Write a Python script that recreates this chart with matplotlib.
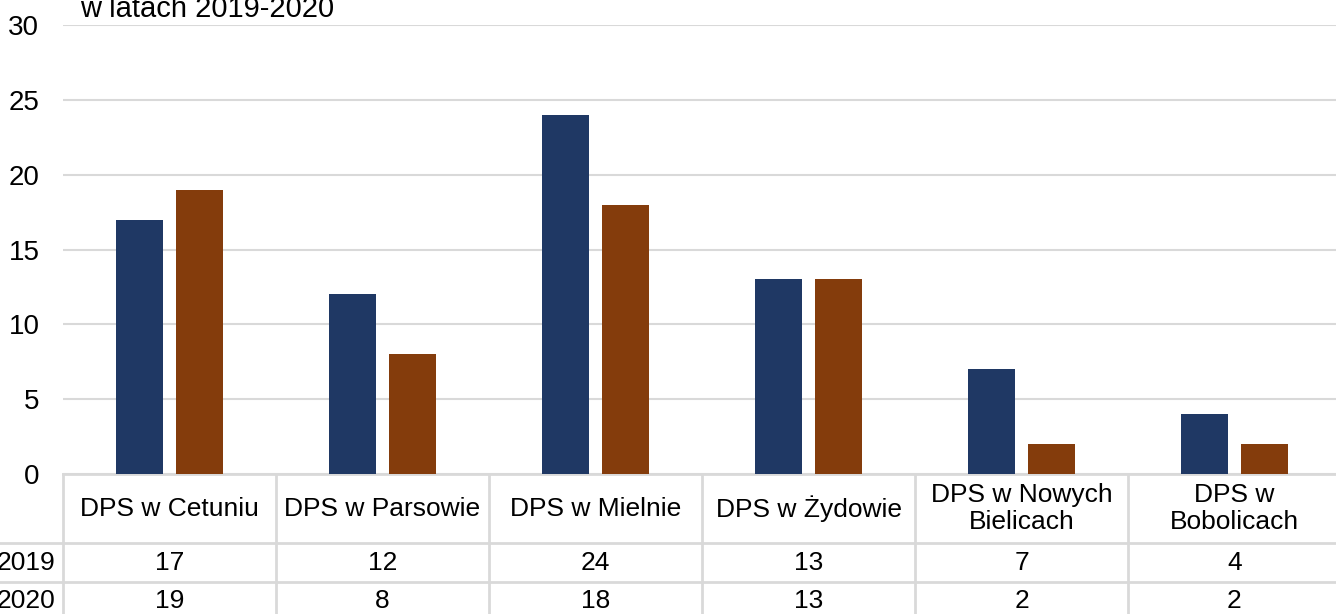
import matplotlib
matplotlib.use("Agg")
import matplotlib.pyplot as plt
import numpy as np

categories = ["DPS w Cetuniu", "DPS w Parsowie", "DPS w Mielnie", "DPS w Żydowie",
              "DPS w Nowych\nBielicach", "DPS w\nBobolicach"]
series_names = ["2019", "2020"]
values_2019 = [17, 12, 24, 13, 7, 4]
values_2020 = [19, 8, 18, 13, 2, 2]
yticks = [0, 5, 10, 15, 20, 25, 30]
title = "w latach 2019-2020"

colors = ["#1F3864", "#843C0C"]
grid_c = "#D9D9D9"
plt.rcParams['font.family'] = ['Liberation Sans', 'DejaVu Sans']
FS = 19

W, H = 1336, 614
fig = plt.figure(figsize=(W / 100, H / 100), dpi=100)
left_px, right_px, top_px, bot_px = 63, 1341, 25, 474
ax = fig.add_axes([left_px / W, 1 - bot_px / H, (right_px - left_px) / W, (bot_px - top_px) / H])

n = len(categories)
x = np.arange(n)
bw = 47 / 213
off = 30 / 213
ax.bar(x - off, values_2019, width=bw, color=colors[0], zorder=3)
ax.bar(x + off, values_2020, width=bw, color=colors[1], zorder=3)

ax.set_xlim(-0.5, n - 0.5)
ax.set_ylim(0, 30)
ax.set_yticks(yticks)
ax.set_yticklabels([str(t) for t in yticks], fontsize=20)
ax.tick_params(axis='y', length=0, pad=17)
ax.tick_params(axis='x', length=0, labelbottom=False)
ax.yaxis.grid(True, color=grid_c, linewidth=1.5, zorder=0)
for s in ax.spines.values():
    s.set_visible(False)

fig.text(80 / W, 1 - 17 / H, title, fontsize=21, ha='left', va='baseline')

# data table
ax_h = bot_px - top_px
def yfrac(py):
    return (bot_px - py) / ax_h

row_lines = [474, 543, 582, 640]
trans = ax.get_xaxis_transform()
lw = 2
for py in row_lines:
    ax.plot([-0.5, n - 0.5], [yfrac(py)] * 2, transform=trans, color=grid_c, lw=lw,
            clip_on=False, zorder=1)
for py in row_lines[1:3]:
    ax.plot([-0.5 - 63 / 213, -0.5], [yfrac(py)] * 2, transform=trans, color=grid_c, lw=lw,
            clip_on=False, zorder=1)
for i in range(n + 1):
    ax.plot([i - 0.5, i - 0.5], [yfrac(474), yfrac(640)], transform=trans, color=grid_c,
            lw=lw, clip_on=False, zorder=1)

for i, c in enumerate(categories):
    ax.text(i, yfrac(508.5), c, transform=trans, ha='center', va='center', fontsize=FS,
            linespacing=1.12)
    ax.text(i, yfrac(562.5), str(values_2019[i]), transform=trans, ha='center', va='center',
            fontsize=FS)
    ax.text(i, yfrac(601), str(values_2020[i]), transform=trans, ha='center', va='center',
            fontsize=FS)
for name, py in zip(series_names, [562.5, 601]):
    ax.text(-0.5 - 8 / 213, yfrac(py), name, transform=trans, ha='right', va='center',
            fontsize=FS)

fig.savefig("out.png", dpi=100)
